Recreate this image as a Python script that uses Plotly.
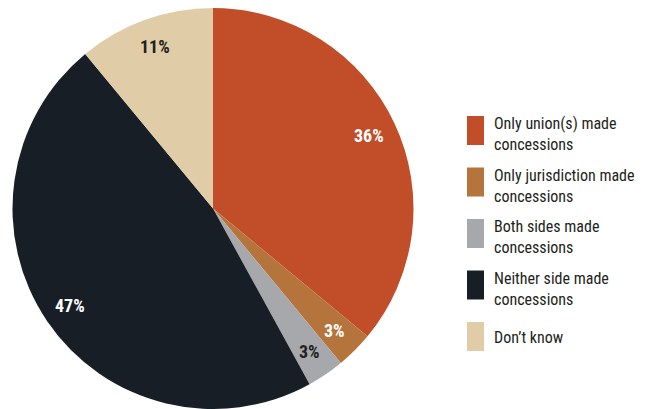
import numpy as np
import plotly.graph_objects as go

labels = ["Only union(s) made concessions", "Only jurisdiction made concessions",
          "Both sides made concessions", "Neither side made concessions", "Don\u2019t know"]
legend_text = ["Only union(s) made<br>concessions", "Only jurisdiction made<br>concessions",
               "Both sides made<br>concessions", "Neither side made<br>concessions", "Don\u2019t know"]
values = [36, 3, 3, 47, 11]
colors = ["#C24E29", "#B5743B", "#A7A8AB", "#171E26", "#E0CDA7"]
text_colors = ["#FFFFFF", "#FFFFFF", "#231F20", "#FFFFFF", "#231F20"]

W, H = 662, 409
FONT = "Liberation Sans Narrow, Arial Narrow, Roboto Condensed, Roboto, sans-serif"

# pie geometry (pixels)
cx, cy, R = 213, 208.5, 200.5

fig = go.Figure(go.Pie(
    labels=labels, values=values, sort=False, direction="clockwise", rotation=0,
    marker=dict(colors=colors, line=dict(width=0)),
    textinfo="none", hoverinfo="label+percent", showlegend=False,
    domain=dict(x=[(cx - R) / W, (cx + R) / W], y=[0, 1 - (cy - R) / H]),
))

annotations = []
# percentage labels, placed at mid-angle of each slice
vals = np.array(values, dtype=float)
cum = np.cumsum(vals) - vals / 2
frac = cum / vals.sum()
for v, f, tc in zip(values, frac, text_colors):
    ang = 2 * np.pi * f  # clockwise from top
    rr = 0.86 * R
    px = cx + rr * np.sin(ang)
    py = cy - rr * np.cos(ang)
    annotations.append(dict(
        x=px / W, y=1 - py / H, xref="paper", yref="paper", showarrow=False,
        text=f"<b>{v}%</b>", font=dict(family=FONT, size=18, color=tc),
        xanchor="center", yanchor="middle"))

# custom legend
shapes = []
sw_x0, sw_x1 = 467, 484
top0, step, sh = 116, 51.5, 29
for i, (t, c) in enumerate(zip(legend_text, colors)):
    y0 = top0 + i * step
    shapes.append(dict(type="rect", xref="paper", yref="paper",
                       x0=sw_x0 / W, x1=sw_x1 / W, y0=1 - y0 / H, y1=1 - (y0 + sh) / H,
                       fillcolor=c, line=dict(width=0)))
    yc = y0 + (18 if "<br>" in t else sh / 2 + 1)
    annotations.append(dict(
        x=492 / W, y=1 - yc / H, xref="paper", yref="paper", showarrow=False,
        text=t, align="left", xanchor="left", yanchor="middle",
        font=dict(family=FONT, size=16, color="#231F20")))

fig.update_layout(
    width=W, height=H, margin=dict(l=0, r=0, t=0, b=0),
    paper_bgcolor="white", plot_bgcolor="white",
    shapes=shapes, annotations=annotations,
)
fig.write_html("out.html")
